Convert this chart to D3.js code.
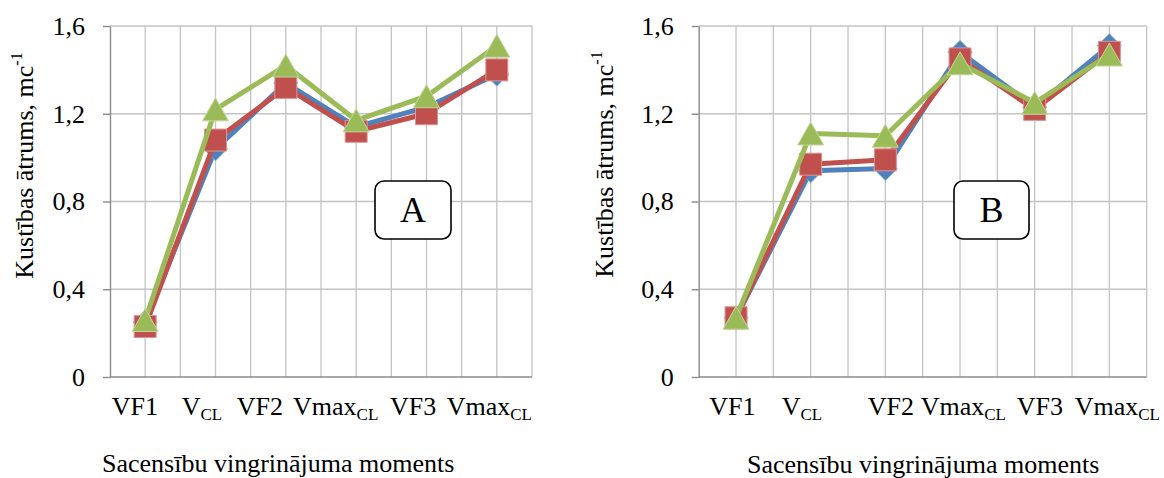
<!DOCTYPE html>
<html>
<head>
<meta charset="utf-8">
<script src="https://cdn.jsdelivr.net/npm/d3@7"></script>
<style>
  body { margin: 0; background: #fff; }
  svg { display: block; }
  text { font-family: "Liberation Serif", "Times New Roman", serif; fill: #000; }
</style>
</head>
<body>
<svg id="chart" width="1164" height="478"></svg>
<script>
// Category labels: main text and subscript part
const labelMain = ["VF1", "V", "VF2", "Vmax", "VF3", "Vmax"];
const labelSub  = ["", "CL", "", "CL", "", "CL"];

// Y axis ticks (decimal comma)
const yTicks = [0, 0.4, 0.8, 1.2, 1.6];
const yTickLabels = ["0", "0,4", "0,8", "1,2", "1,6"];

// Panel A values (three series: diamond, square, triangle)
const aSeries1 = [0.25, 1.04, 1.34, 1.14, 1.23, 1.38];
const aSeries2 = [0.23, 1.08, 1.32, 1.12, 1.20, 1.40];
const aSeries3 = [0.26, 1.22, 1.42, 1.17, 1.28, 1.51];

// Panel B values
const bSeries1 = [0.27, 0.94, 0.95, 1.48, 1.23, 1.51];
const bSeries2 = [0.27, 0.97, 0.99, 1.45, 1.22, 1.48];
const bSeries3 = [0.27, 1.11, 1.10, 1.43, 1.25, 1.47];

const yTitle = "Kustības ātrums, mc";
const yTitleSup = "-1";
const xTitle = "Sacensību vingrinājuma moments";

const seriesStyle = [
  { fill: "#4F81BD", stroke: "#8fb0d8", shape: "diamond" },
  { fill: "#C0504D", stroke: "#dc9593", shape: "square" },
  { fill: "#9BBB59", stroke: "#c3d79b", shape: "triangle" }
];

// Marker shapes, centred on their bounding box
const shapes = {
  diamond: { draw(ctx) { const r = 12; ctx.moveTo(0, -r); ctx.lineTo(r, 0); ctx.lineTo(0, r); ctx.lineTo(-r, 0); ctx.closePath(); } },
  square:  { draw(ctx) { const h = 11; ctx.rect(-h, -h, 2 * h, 2 * h); } },
  triangle:{ draw(ctx) { const w = 13, h = 11.5; ctx.moveTo(0, -h); ctx.lineTo(w, h); ctx.lineTo(-w, h); ctx.closePath(); } }
};

const panels = [
  { letter: "A", left: 110, right: 532, top: 26, bottom: 377,
    series: [aSeries1, aSeries2, aSeries3],
    yTitlePos: [33, 165.5], xTitlePos: [102, 472], labelY: 415,
    labelStarts: [1.7, 71.7, 126.7, 183, 280, 336.7],
    box: { x: 375, y: 181, w: 76, h: 58 } },
  { letter: "B", left: 698.7, right: 1146.7, top: 26, bottom: 377,
    series: [bSeries1, bSeries2, bSeries3],
    yTitlePos: [613, 164.5], xTitlePos: [747, 473], labelY: 415,
    labelStarts: [10.5, 83, 169, 222, 318, 376],
    box: { x: 954, y: 181, w: 75, h: 58 } }
];

const svg = d3.select("#chart");
const gridColor = "#c4c4c4";
const axisColor = "#8a8a8a";

panels.forEach(p => {
  const g = svg.append("g");
  const x = d3.scaleBand().domain(d3.range(labelMain.length)).range([p.left, p.right]).padding(0);
  const bw = x.bandwidth();
  const cx = i => x(i) + bw / 2;
  const y = d3.scaleLinear().domain([0, 1.6]).range([p.bottom, p.top]);

  // vertical gridlines at band edges and band centres
  const gx = [];
  x.domain().forEach(i => { if (i > 0) gx.push(x(i)); gx.push(cx(i)); });
  gx.push(p.right);
  g.append("g").selectAll("line").data(gx).join("line")
    .attr("x1", d => d).attr("x2", d => d)
    .attr("y1", p.top).attr("y2", p.bottom)
    .attr("stroke", gridColor).attr("stroke-width", 1.3);

  // horizontal gridlines
  g.append("g").selectAll("line").data(yTicks.filter(v => v > 0)).join("line")
    .attr("x1", p.left).attr("x2", p.right)
    .attr("y1", d => y(d)).attr("y2", d => y(d))
    .attr("stroke", gridColor).attr("stroke-width", 1.3);

  // y axis
  const yAxis = d3.axisLeft(y).tickValues(yTicks)
    .tickFormat((d, i) => yTickLabels[i]).tickSize(7).tickSizeOuter(0).tickPadding(18);
  const ya = g.append("g").attr("transform", `translate(${p.left},0)`).call(yAxis);
  ya.select(".domain").attr("stroke", axisColor).attr("stroke-width", 1.4);
  ya.selectAll(".tick line").attr("stroke", axisColor).attr("stroke-width", 1.4);
  ya.selectAll(".tick text").attr("font-size", 26).attr("font-family", "Liberation Serif").attr("fill", "#000");

  // x axis line
  g.append("line").attr("x1", p.left).attr("x2", p.right)
    .attr("y1", y(0)).attr("y2", y(0))
    .attr("stroke", axisColor).attr("stroke-width", 1.4);

  // category labels with subscripts
  const lab = g.append("g");
  labelMain.forEach((m, i) => {
    const t = lab.append("text").attr("x", p.left + p.labelStarts[i]).attr("y", p.labelY).attr("font-size", 26);
    t.append("tspan").text(m);
    if (labelSub[i]) t.append("tspan").attr("font-size", 17).attr("dy", 5).text(labelSub[i]);
  });

  // series lines and markers
  const line = d3.line().x((d, i) => cx(i)).y(d => y(d));
  p.series.forEach((vals, s) => {
    const st = seriesStyle[s];
    g.append("path").datum(vals).attr("d", line)
      .attr("fill", "none").attr("stroke", st.fill).attr("stroke-width", 5)
      .attr("stroke-linejoin", "round").attr("stroke-linecap", "round");
    g.append("g").selectAll("path").data(vals).join("path")
      .attr("transform", (d, i) => `translate(${cx(i)},${y(d)})`)
      .attr("d", d3.symbol(shapes[st.shape], 1))
      .attr("fill", st.fill).attr("stroke", st.stroke).attr("stroke-width", 1);
  });

  // y axis title
  const yt = g.append("text")
    .attr("transform", `translate(${p.yTitlePos[0]},${p.yTitlePos[1]}) rotate(-90)`)
    .attr("text-anchor", "middle").attr("font-size", 26);
  yt.append("tspan").text(yTitle);
  yt.append("tspan").attr("font-size", 16).attr("dy", -11).text(yTitleSup);

  // x axis title
  g.append("text").attr("x", p.xTitlePos[0]).attr("y", p.xTitlePos[1])
    .attr("font-size", 26).text(xTitle);

  // panel letter box
  g.append("rect").attr("x", p.box.x).attr("y", p.box.y)
    .attr("width", p.box.w).attr("height", p.box.h).attr("rx", 9)
    .attr("fill", "#fff").attr("stroke", "#000").attr("stroke-width", 1.6);
  g.append("text").attr("x", p.box.x + p.box.w / 2).attr("y", p.box.y + p.box.h / 2 + 12)
    .attr("text-anchor", "middle").attr("font-size", 36).text(p.letter);
});
</script>
</body>
</html>
